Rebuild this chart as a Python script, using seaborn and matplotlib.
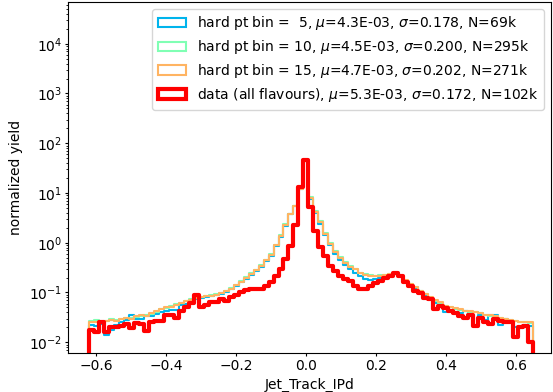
import numpy as np
import pandas as pd
import matplotlib
matplotlib.use("Agg")
import matplotlib.pyplot as plt
import seaborn as sns
from matplotlib.patches import Patch

# binning of Jet_Track_IPd
x_min, x_max, n_bins = -0.62, 0.648, 89

# normalized yield per bin
pt5 = [0.022, 0.021, 0.023, 0.014, 0.018, 0.022, 0.025, 0.028, 0.036, 0.030,
       0.030, 0.033, 0.034, 0.037, 0.040, 0.042, 0.045, 0.045, 0.055, 0.060,
       0.070, 0.075, 0.078, 0.080, 0.085, 0.088, 0.095, 0.100, 0.115, 0.135,
       0.16, 0.19, 0.23, 0.27, 0.33, 0.42, 0.55, 0.85, 1.3, 2.2,
       3.7, 5.5, 12.0, 44.0, 7.6, 4.0, 2.4, 1.4, 0.90, 0.60,
       0.45, 0.36, 0.30, 0.25, 0.21, 0.19, 0.18, 0.19, 0.20, 0.21,
       0.23, 0.24, 0.21, 0.17, 0.14, 0.12, 0.10, 0.085, 0.075, 0.062,
       0.050, 0.040, 0.045, 0.040, 0.038, 0.042, 0.036, 0.022, 0.035, 0.028,
       0.036, 0.036, 0.022, 0.030, 0.026, 0.020, 0.019, 0.022, 0.021]

pt10 = [0.027, 0.028, 0.026, 0.027, 0.029, 0.028, 0.029, 0.031, 0.031, 0.032,
        0.034, 0.035, 0.037, 0.041, 0.047, 0.049, 0.053, 0.058, 0.061, 0.067,
        0.073, 0.077, 0.081, 0.085, 0.088, 0.092, 0.098, 0.107, 0.122, 0.142,
        0.17, 0.205, 0.245, 0.285, 0.35, 0.45, 0.60, 0.92, 1.4, 2.35,
        3.8, 5.5, 12.0, 44.0, 8.2, 4.3, 2.7, 1.55, 0.98, 0.67,
        0.52, 0.41, 0.34, 0.29, 0.25, 0.235, 0.22, 0.215, 0.22, 0.225,
        0.235, 0.245, 0.21, 0.17, 0.145, 0.128, 0.106, 0.093, 0.078, 0.069,
        0.062, 0.054, 0.050, 0.047, 0.045, 0.043, 0.041, 0.040, 0.038, 0.036,
        0.034, 0.033, 0.031, 0.029, 0.028, 0.027, 0.026, 0.025, 0.024]

pt15 = [0.025, 0.026, 0.025, 0.027, 0.028, 0.027, 0.030, 0.031, 0.030, 0.033,
        0.035, 0.034, 0.038, 0.042, 0.046, 0.050, 0.052, 0.057, 0.062, 0.066,
        0.072, 0.078, 0.080, 0.084, 0.087, 0.091, 0.097, 0.105, 0.120, 0.140,
        0.165, 0.20, 0.24, 0.28, 0.34, 0.44, 0.58, 0.90, 1.35, 2.3,
        3.7, 5.4, 12.0, 44.0, 8.0, 4.2, 2.6, 1.5, 0.95, 0.65,
        0.50, 0.40, 0.33, 0.29, 0.25, 0.23, 0.215, 0.21, 0.215, 0.22,
        0.235, 0.25, 0.215, 0.175, 0.15, 0.13, 0.108, 0.095, 0.080, 0.070,
        0.063, 0.053, 0.050, 0.048, 0.046, 0.043, 0.042, 0.041, 0.039, 0.036,
        0.035, 0.033, 0.031, 0.030, 0.028, 0.027, 0.026, 0.025, 0.025]

data_all = [0.018, 0.016, 0.025, 0.016, 0.020, 0.020, 0.021, 0.023, 0.019, 0.024,
            0.023, 0.017, 0.025, 0.027, 0.027, 0.035, 0.035, 0.031, 0.043, 0.050,
            0.062, 0.090, 0.050, 0.057, 0.063, 0.065, 0.075, 0.068, 0.080, 0.090,
            0.100, 0.110, 0.115, 0.120, 0.120, 0.135, 0.160, 0.210, 0.300, 0.480,
            0.85, 2.3, 13.0, 46.0, 5.3, 1.7, 0.84, 0.53, 0.34, 0.27,
            0.21, 0.19, 0.17, 0.135, 0.120, 0.118, 0.133, 0.155, 0.170, 0.195,
            0.21, 0.25, 0.21, 0.16, 0.133, 0.106, 0.098, 0.078, 0.075, 0.046,
            0.053, 0.049, 0.042, 0.039, 0.034, 0.031, 0.036, 0.021, 0.031, 0.025,
            0.023, 0.029, 0.027, 0.025, 0.025, 0.013, 0.020, 0.021, 0.010]

labels = [
    r"hard pt bin =  5, $\mu$=4.3E-03, $\sigma$=0.178, N=69k",
    r"hard pt bin = 10, $\mu$=4.5E-03, $\sigma$=0.200, N=295k",
    r"hard pt bin = 15, $\mu$=4.7E-03, $\sigma$=0.202, N=271k",
    r"data (all flavours), $\mu$=5.3E-03, $\sigma$=0.172, N=102k",
]
colors = ["#00b4ec", "#80ffb4", "#ffb462", "#ff0000"]
widths = [1.5, 1.5, 1.5, 3.0]
y_ticks = [1e-2, 1e-1, 1e0, 1e1, 1e2, 1e3, 1e4]

# shorter ticks / tighter tick labels like the original
for ax_name in ["xtick", "ytick"]:
    plt.rcParams[ax_name + ".major.size"] = 2.2
    plt.rcParams[ax_name + ".minor.size"] = 1.3
    plt.rcParams[ax_name + ".major.pad"] = 2.2
    plt.rcParams[ax_name + ".minor.pad"] = 2.2

# one empty bin added on each side so the steps drop down at the ends
step = (x_max - x_min) / n_bins
lo, hi = x_min - step, x_max + step
centers = np.linspace(lo + step / 2, hi - step / 2, n_bins + 2)

fig, ax = plt.subplots(figsize=(5.53, 3.92), dpi=100)
fig.subplots_adjust(left=0.123, right=0.9964, bottom=0.099, top=0.995)

for vals, c, lw in zip([pt5, pt10, pt15, data_all], colors, widths):
    df = pd.DataFrame({"x": centers, "w": [0.0] + vals + [0.0]})
    sns.histplot(
        data=df,
        x="x",
        weights="w",
        bins=n_bins + 2,
        binrange=(lo, hi),
        element="step",
        fill=False,
        color=c,
        linewidth=lw,
        ax=ax
    )

ax.set_yscale("log")
ax.set_yticks(y_ticks)
ax.set_ylim(10 ** -2.22, 10 ** 4.84)
ax.set_xlim(-0.68, 0.70)

ax.set_xlabel("Jet_Track_IPd", labelpad=3)
ax.set_ylabel("normalized yield")

handles = [
    Patch(facecolor="none", edgecolor=c, linewidth=lw, label=l)
    for c, lw, l in zip(colors, widths, labels)
]
ax.legend(handles=handles, loc="upper right", labelspacing=0.42)

fig.savefig("out.png", dpi=100)
